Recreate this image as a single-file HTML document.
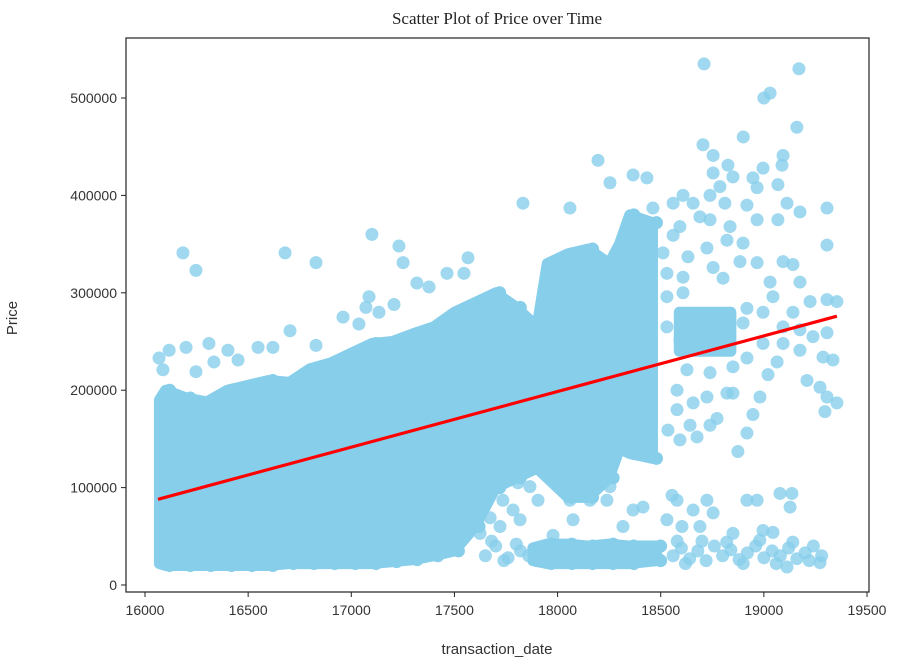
<!DOCTYPE html>
<html><head><meta charset="utf-8">
<style>
html,body{margin:0;padding:0;background:#fff;}
svg{display:block;font-family:"Liberation Sans","DejaVu Sans",sans-serif;}
</style></head>
<body>
<svg id="chart" width="901" height="666" viewBox="0 0 901 666">
<text x="497" y="24" text-anchor="middle" font-family="Liberation Serif, serif" font-size="17" fill="#222">Scatter Plot of Price over Time</text>
<g id="dense"></g>
<g id="pts"></g>
<g id="reg"></g>
<rect x="126" y="38" width="743" height="554" fill="none" stroke="#222" stroke-width="1.2"/>
<g id="xaxis"></g>
<g id="yaxis"></g>
<text x="497" y="654" text-anchor="middle" font-size="15" fill="#333">transaction_date</text>
<text transform="translate(17,318) rotate(-90)" text-anchor="middle" font-size="15" fill="#333">Price</text>
</svg>
<script>
const xTicks=[16000,16500,17000,17500,18000,18500,19000,19500];
const yTicks=[0,100000,200000,300000,400000,500000];
// main dense band
const bandX=[16070,16100,16200,16300,16400,16500,16600,16700,16800,16900,17000,17100,17200,17300,17400,17500,17600,17700,17800,17900,17950,18050,18150,18250,18300,18350,18460];
const bandLo=[22000,20000,20000,20000,20000,20000,20000,22000,22000,22000,22000,22000,24000,26000,30000,35000,60000,100000,110000,120000,110000,90000,90000,110000,140000,135000,130000];
const bandHi=[190000,200000,192000,188000,200000,205000,210000,208000,222000,228000,238000,248000,250000,258000,265000,280000,290000,300000,285000,265000,330000,340000,345000,330000,350000,380000,372000];
// bottom dense band
const botX=[17880,17950,18050,18150,18250,18350,18480];
const botLo=[25000,22000,22000,22000,22000,22000,25000];
const botHi=[38000,42000,42000,40000,42000,40000,40000];
// right mid cluster
const clX0=[18590];
const clX1=[18840];
const clLo=[240000];
const clHi=[280000];
// individual points
const ptX=[16184,16247,16679,16829,17100,17231,17251,17566,17318,17377,17464,17546,17086,17071,17134,17207,16960,17037,16703,16310,16199,16117,16402,16829,16548,16620,16334,16451,16068,16087,16247,
18196,18366,18433,18254,17832,18060,18462,18705,18754,18826,18996,19093,19088,18754,18850,18947,19068,18787,18967,18608,18739,18560,18657,18811,18918,19112,19175,19306,19068,18967,18739,18836,18690,18593,18560,19306,18821,18899,18724,18511,18632,18884,18967,19093,19141,18754,18530,18608,18802,19030,19175,19224,19306,19354,19044,18530,18608,18918,18996,19141,18530,18608,18754,18899,19093,19175,19238,19306,18593,18754,18996,19093,19175,19287,19335,19064,18918,18850,18739,18627,19020,19209,19272,19306,19354,19296,18579,18657,18821,18850,18981,18724,18579,18947,18773,18739,18642,18535,18593,18676,18918,18874,
19078,19136,19127,18918,18967,18724,18754,18579,18555,18657,18690,18603,18530,18414,18366,18317,18239,18254,18157,18075,18060,17997,17978,17905,17866,17808,17784,17818,17735,17721,17663,17673,17624,18850,18996,19044,19272,19112,18710,19170,19000,19030,18900,19160,
18560,18600,18640,18680,18720,18760,18800,18840,18880,18920,18960,19000,19040,19080,19120,19160,19200,19240,19280,18580,18700,18820,18980,19140,18620,18900,19060,19220,17650,17700,17760,17820,17680,17740,17800,17860];
const ptY=[341000,323000,341000,331000,360000,348000,331000,336000,310000,306000,320000,320000,296000,285000,280000,288000,275000,268000,261000,248000,244000,241000,241000,246000,244000,244000,229000,231000,233000,221000,219000,
436000,421000,418000,413000,392000,387000,387000,452000,441000,431000,428000,441000,431000,423000,419000,418000,411000,409000,408000,400000,400000,392000,392000,392000,390000,392000,383000,387000,375000,375000,375000,368000,378000,368000,359000,349000,354000,351000,346000,341000,337000,332000,331000,332000,329000,326000,320000,316000,315000,311000,311000,291000,293000,291000,296000,296000,300000,284000,280000,280000,265000,272000,272000,269000,265000,262000,255000,259000,252000,248000,248000,248000,241000,234000,231000,229000,233000,224000,218000,221000,216000,210000,203000,193000,187000,178000,200000,187000,197000,197000,193000,193000,180000,175000,171000,164000,164000,159000,149000,152000,156000,137000,
94000,94000,80000,87000,87000,87000,74000,87000,92000,77000,60000,60000,67000,80000,77000,60000,87000,101000,87000,67000,87000,110000,51000,87000,101000,105000,77000,67000,87000,60000,105000,69000,53000,53000,56000,54000,23000,18500,535000,530000,500000,505000,460000,470000,
30000,38000,27000,35000,25000,40000,30000,36000,26000,33000,40000,28000,35000,30000,38000,27000,33000,40000,30000,45000,45000,44000,46000,44000,22000,22000,22000,25000,
30000,40000,28000,35000,45000,25000,42000,30000];
const lineX=[16063,19354];
const lineY=[88000,276000];

const sx=d=>145+(d-16000)*0.20629;
const sy=v=>585-v*0.000974;
const NS="http://www.w3.org/2000/svg";
function mk(tag,attrs,parent){const e=document.createElementNS(NS,tag);for(const k in attrs)e.setAttribute(k,attrs[k]);parent.appendChild(e);return e;}
const C="#87ceeb";
const dense=document.getElementById('dense');
function drawBand(X,Lo,Hi,name){
  let d="";
  X.forEach((x,i)=>{d+=(i?"L":"M")+sx(x)+","+sy(Hi[i]);});
  for(let i=X.length-1;i>=0;i--)d+="L"+sx(X[i])+","+sy(Lo[i]);
  d+="Z";
  const p=mk('path',{d:d,fill:C,stroke:C,'stroke-width':11,'stroke-linejoin':'round'},dense);
  
  
  X.forEach((x,i)=>{
    [Hi[i],Lo[i]].forEach(v=>{
      const c=mk('circle',{cx:sx(x)+4,cy:sy(v),r:6.5,fill:C},dense);
      
      
    });
  });
}
drawBand(bandX,bandLo,bandHi,'dense-band-main');
drawBand(botX,botLo,botHi,'dense-band-bottom');
clX0.forEach((x0,i)=>{
  const r=mk('rect',{x:sx(x0),y:sy(clHi[i]),width:sx(clX1[i])-sx(x0),height:sy(clLo[i])-sy(clHi[i]),fill:C,stroke:C,'stroke-width':11,'stroke-linejoin':'round'},dense);
  
  
});
const pts=document.getElementById('pts');
ptX.forEach((x,i)=>{
  const c=mk('circle',{cx:sx(x),cy:sy(ptY[i]),r:6.5,fill:C,'fill-opacity':0.8},pts);
  
  
});
const reg=document.getElementById('reg');
const ln=mk('line',{x1:sx(lineX[0]),y1:sy(lineY[0]),x2:sx(lineX[1]),y2:sy(lineY[1]),stroke:"#ff0000",'stroke-width':3.2},reg);


const xa=document.getElementById('xaxis');
xTicks.forEach(t=>{
  const l=mk('line',{x1:sx(t),x2:sx(t),y1:592,y2:597,stroke:"#222"},xa);
  
  
  const tx=mk('text',{x:sx(t),y:615,'text-anchor':'middle','font-size':14,fill:"#333"},xa);
  tx.textContent=t;
  
  
});
const ya=document.getElementById('yaxis');
yTicks.forEach(t=>{
  const l=mk('line',{x1:121,x2:126,y1:sy(t),y2:sy(t),stroke:"#222"},ya);
  
  
  const tx=mk('text',{x:117,y:sy(t)+5,'text-anchor':'end','font-size':14,fill:"#333"},ya);
  tx.textContent=t;
  
  
});
</script>
</body></html>
